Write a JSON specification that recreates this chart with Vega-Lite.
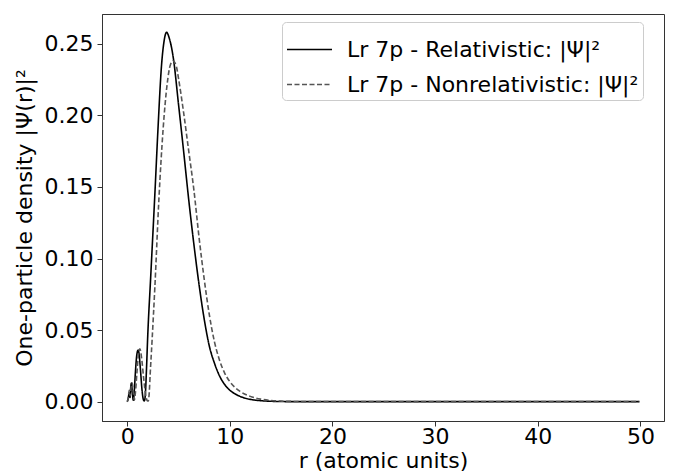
{
  "$schema": "https://vega.github.io/schema/vega-lite/v6.json",
  "width": 562,
  "height": 407,
  "autosize": {"type": "none"},
  "padding": {"left": 102, "top": 14, "right": 9, "bottom": 51},
  "background": "white",
  "config": {
    "font": "DejaVu Sans",
    "view": {"stroke": "#333333", "strokeWidth": 1},
    "axis": {
      "grid": false,
      "domainColor": "#333333",
      "tickColor": "#333333",
      "tickSize": 5,
      "labelFont": "DejaVu Sans",
      "labelFontSize": 22,
      "labelColor": "#000000",
      "titleFont": "DejaVu Sans",
      "titleFontSize": 22,
      "titleFontWeight": "normal",
      "titleColor": "#000000"
    },
    "legend": {
      "labelFont": "DejaVu Sans",
      "labelFontSize": 22,
      "labelColor": "#000000",
      "labelLimit": 0
    }
  },
  "data": {
    "values": [
      {"r": 0, "d": 0, "s": "Lr 7p - Relativistic: |Ψ|²"},
      {"r": 0.1, "d": 0.002, "s": "Lr 7p - Relativistic: |Ψ|²"},
      {"r": 0.2, "d": 0.006, "s": "Lr 7p - Relativistic: |Ψ|²"},
      {"r": 0.28, "d": 0.003, "s": "Lr 7p - Relativistic: |Ψ|²"},
      {"r": 0.35, "d": 0.01, "s": "Lr 7p - Relativistic: |Ψ|²"},
      {"r": 0.42, "d": 0.013, "s": "Lr 7p - Relativistic: |Ψ|²"},
      {"r": 0.5, "d": 0.007, "s": "Lr 7p - Relativistic: |Ψ|²"},
      {"r": 0.6, "d": 0.001, "s": "Lr 7p - Relativistic: |Ψ|²"},
      {"r": 0.7, "d": 0.008, "s": "Lr 7p - Relativistic: |Ψ|²"},
      {"r": 0.8, "d": 0.02, "s": "Lr 7p - Relativistic: |Ψ|²"},
      {"r": 0.9, "d": 0.03, "s": "Lr 7p - Relativistic: |Ψ|²"},
      {"r": 1.0, "d": 0.035, "s": "Lr 7p - Relativistic: |Ψ|²"},
      {"r": 1.07, "d": 0.036, "s": "Lr 7p - Relativistic: |Ψ|²"},
      {"r": 1.15, "d": 0.034, "s": "Lr 7p - Relativistic: |Ψ|²"},
      {"r": 1.3, "d": 0.022, "s": "Lr 7p - Relativistic: |Ψ|²"},
      {"r": 1.45, "d": 0.008, "s": "Lr 7p - Relativistic: |Ψ|²"},
      {"r": 1.6, "d": 0.001, "s": "Lr 7p - Relativistic: |Ψ|²"},
      {"r": 1.68, "d": 0.0005, "s": "Lr 7p - Relativistic: |Ψ|²"},
      {"r": 1.78, "d": 0.006, "s": "Lr 7p - Relativistic: |Ψ|²"},
      {"r": 1.88, "d": 0.022, "s": "Lr 7p - Relativistic: |Ψ|²"},
      {"r": 2.0, "d": 0.045, "s": "Lr 7p - Relativistic: |Ψ|²"},
      {"r": 2.3, "d": 0.088, "s": "Lr 7p - Relativistic: |Ψ|²"},
      {"r": 2.7, "d": 0.145, "s": "Lr 7p - Relativistic: |Ψ|²"},
      {"r": 3.0, "d": 0.19, "s": "Lr 7p - Relativistic: |Ψ|²"},
      {"r": 3.35, "d": 0.235, "s": "Lr 7p - Relativistic: |Ψ|²"},
      {"r": 3.6, "d": 0.252, "s": "Lr 7p - Relativistic: |Ψ|²"},
      {"r": 3.84, "d": 0.258, "s": "Lr 7p - Relativistic: |Ψ|²"},
      {"r": 4.1, "d": 0.254, "s": "Lr 7p - Relativistic: |Ψ|²"},
      {"r": 4.5, "d": 0.24, "s": "Lr 7p - Relativistic: |Ψ|²"},
      {"r": 5.0, "d": 0.208, "s": "Lr 7p - Relativistic: |Ψ|²"},
      {"r": 5.5, "d": 0.175, "s": "Lr 7p - Relativistic: |Ψ|²"},
      {"r": 6.0, "d": 0.141, "s": "Lr 7p - Relativistic: |Ψ|²"},
      {"r": 6.5, "d": 0.11, "s": "Lr 7p - Relativistic: |Ψ|²"},
      {"r": 7.0, "d": 0.082, "s": "Lr 7p - Relativistic: |Ψ|²"},
      {"r": 7.5, "d": 0.058, "s": "Lr 7p - Relativistic: |Ψ|²"},
      {"r": 8.0, "d": 0.039, "s": "Lr 7p - Relativistic: |Ψ|²"},
      {"r": 8.5, "d": 0.027, "s": "Lr 7p - Relativistic: |Ψ|²"},
      {"r": 9.0, "d": 0.018, "s": "Lr 7p - Relativistic: |Ψ|²"},
      {"r": 9.5, "d": 0.012, "s": "Lr 7p - Relativistic: |Ψ|²"},
      {"r": 10, "d": 0.008, "s": "Lr 7p - Relativistic: |Ψ|²"},
      {"r": 10.5, "d": 0.0055, "s": "Lr 7p - Relativistic: |Ψ|²"},
      {"r": 11, "d": 0.0037, "s": "Lr 7p - Relativistic: |Ψ|²"},
      {"r": 12, "d": 0.0016, "s": "Lr 7p - Relativistic: |Ψ|²"},
      {"r": 13, "d": 0.0007, "s": "Lr 7p - Relativistic: |Ψ|²"},
      {"r": 14, "d": 0.0003, "s": "Lr 7p - Relativistic: |Ψ|²"},
      {"r": 15, "d": 0.0001, "s": "Lr 7p - Relativistic: |Ψ|²"},
      {"r": 17, "d": 0, "s": "Lr 7p - Relativistic: |Ψ|²"},
      {"r": 20, "d": 0, "s": "Lr 7p - Relativistic: |Ψ|²"},
      {"r": 30, "d": 0, "s": "Lr 7p - Relativistic: |Ψ|²"},
      {"r": 40, "d": 0, "s": "Lr 7p - Relativistic: |Ψ|²"},
      {"r": 49.9, "d": 0, "s": "Lr 7p - Relativistic: |Ψ|²"},
      {"r": 0, "d": 0, "s": "Lr 7p - Nonrelativistic: |Ψ|²"},
      {"r": 0.1, "d": 0.002, "s": "Lr 7p - Nonrelativistic: |Ψ|²"},
      {"r": 0.2, "d": 0.008, "s": "Lr 7p - Nonrelativistic: |Ψ|²"},
      {"r": 0.3, "d": 0.004, "s": "Lr 7p - Nonrelativistic: |Ψ|²"},
      {"r": 0.4, "d": 0.011, "s": "Lr 7p - Nonrelativistic: |Ψ|²"},
      {"r": 0.5, "d": 0.013, "s": "Lr 7p - Nonrelativistic: |Ψ|²"},
      {"r": 0.6, "d": 0.006, "s": "Lr 7p - Nonrelativistic: |Ψ|²"},
      {"r": 0.7, "d": 0.001, "s": "Lr 7p - Nonrelativistic: |Ψ|²"},
      {"r": 0.8, "d": 0.006, "s": "Lr 7p - Nonrelativistic: |Ψ|²"},
      {"r": 0.95, "d": 0.02, "s": "Lr 7p - Nonrelativistic: |Ψ|²"},
      {"r": 1.1, "d": 0.033, "s": "Lr 7p - Nonrelativistic: |Ψ|²"},
      {"r": 1.24, "d": 0.037, "s": "Lr 7p - Nonrelativistic: |Ψ|²"},
      {"r": 1.4, "d": 0.031, "s": "Lr 7p - Nonrelativistic: |Ψ|²"},
      {"r": 1.6, "d": 0.017, "s": "Lr 7p - Nonrelativistic: |Ψ|²"},
      {"r": 1.8, "d": 0.005, "s": "Lr 7p - Nonrelativistic: |Ψ|²"},
      {"r": 1.95, "d": 0.0008, "s": "Lr 7p - Nonrelativistic: |Ψ|²"},
      {"r": 2.05, "d": 0.0005, "s": "Lr 7p - Nonrelativistic: |Ψ|²"},
      {"r": 2.15, "d": 0.006, "s": "Lr 7p - Nonrelativistic: |Ψ|²"},
      {"r": 2.25, "d": 0.02, "s": "Lr 7p - Nonrelativistic: |Ψ|²"},
      {"r": 2.43, "d": 0.043, "s": "Lr 7p - Nonrelativistic: |Ψ|²"},
      {"r": 2.7, "d": 0.08, "s": "Lr 7p - Nonrelativistic: |Ψ|²"},
      {"r": 3.09, "d": 0.141, "s": "Lr 7p - Nonrelativistic: |Ψ|²"},
      {"r": 3.5, "d": 0.19, "s": "Lr 7p - Nonrelativistic: |Ψ|²"},
      {"r": 3.9, "d": 0.222, "s": "Lr 7p - Nonrelativistic: |Ψ|²"},
      {"r": 4.2, "d": 0.235, "s": "Lr 7p - Nonrelativistic: |Ψ|²"},
      {"r": 4.48, "d": 0.238, "s": "Lr 7p - Nonrelativistic: |Ψ|²"},
      {"r": 4.8, "d": 0.234, "s": "Lr 7p - Nonrelativistic: |Ψ|²"},
      {"r": 5.0, "d": 0.226, "s": "Lr 7p - Nonrelativistic: |Ψ|²"},
      {"r": 5.5, "d": 0.202, "s": "Lr 7p - Nonrelativistic: |Ψ|²"},
      {"r": 6.0, "d": 0.175, "s": "Lr 7p - Nonrelativistic: |Ψ|²"},
      {"r": 6.5, "d": 0.148, "s": "Lr 7p - Nonrelativistic: |Ψ|²"},
      {"r": 7.0, "d": 0.115, "s": "Lr 7p - Nonrelativistic: |Ψ|²"},
      {"r": 7.5, "d": 0.086, "s": "Lr 7p - Nonrelativistic: |Ψ|²"},
      {"r": 8.0, "d": 0.061, "s": "Lr 7p - Nonrelativistic: |Ψ|²"},
      {"r": 8.5, "d": 0.042, "s": "Lr 7p - Nonrelativistic: |Ψ|²"},
      {"r": 9.0, "d": 0.029, "s": "Lr 7p - Nonrelativistic: |Ψ|²"},
      {"r": 9.5, "d": 0.02, "s": "Lr 7p - Nonrelativistic: |Ψ|²"},
      {"r": 10, "d": 0.014, "s": "Lr 7p - Nonrelativistic: |Ψ|²"},
      {"r": 10.5, "d": 0.01, "s": "Lr 7p - Nonrelativistic: |Ψ|²"},
      {"r": 11, "d": 0.0072, "s": "Lr 7p - Nonrelativistic: |Ψ|²"},
      {"r": 12, "d": 0.0037, "s": "Lr 7p - Nonrelativistic: |Ψ|²"},
      {"r": 13, "d": 0.0018, "s": "Lr 7p - Nonrelativistic: |Ψ|²"},
      {"r": 14, "d": 0.0008, "s": "Lr 7p - Nonrelativistic: |Ψ|²"},
      {"r": 15, "d": 0.0004, "s": "Lr 7p - Nonrelativistic: |Ψ|²"},
      {"r": 16, "d": 0.0002, "s": "Lr 7p - Nonrelativistic: |Ψ|²"},
      {"r": 18, "d": 0, "s": "Lr 7p - Nonrelativistic: |Ψ|²"},
      {"r": 20, "d": 0, "s": "Lr 7p - Nonrelativistic: |Ψ|²"},
      {"r": 30, "d": 0, "s": "Lr 7p - Nonrelativistic: |Ψ|²"},
      {"r": 40, "d": 0, "s": "Lr 7p - Nonrelativistic: |Ψ|²"},
      {"r": 49.9, "d": 0, "s": "Lr 7p - Nonrelativistic: |Ψ|²"}
    ]
  },
  "mark": {"type": "line", "strokeWidth": 1.6, "interpolate": "monotone"},
  "encoding": {
    "x": {
      "field": "r",
      "type": "quantitative",
      "scale": {"domain": [-2.45, 52.3], "nice": false, "zero": false},
      "axis": {"values": [0, 10, 20, 30, 40, 50], "title": "r (atomic units)", "labelPadding": 0, "titlePadding": 3}
    },
    "y": {
      "field": "d",
      "type": "quantitative",
      "scale": {"domain": [-0.0135, 0.2708], "nice": false, "zero": false},
      "axis": {"values": [0, 0.05, 0.1, 0.15, 0.2, 0.25], "format": ".2f", "title": "One-particle density |Ψ(r)|²", "labelPadding": 4, "titlePadding": 8}
    },
    "color": {
      "field": "s",
      "type": "nominal",
      "scale": {"domain": ["Lr 7p - Relativistic: |Ψ|²", "Lr 7p - Nonrelativistic: |Ψ|²"], "range": ["#000000", "#555555"]},
      "legend": {
        "title": null,
        "orient": "none",
        "legendX": 180,
        "legendY": 8,
        "symbolType": "stroke",
        "symbolSize": 2025,
        "symbolStrokeWidth": 1.5,
        "labelOffset": 14,
        "rowPadding": -8,
        "padding": 4,
        "strokeColor": "#cccccc",
        "fillColor": "#ffffff",
        "cornerRadius": 4
      }
    },
    "strokeDash": {
      "field": "s",
      "type": "nominal",
      "scale": {"domain": ["Lr 7p - Relativistic: |Ψ|²", "Lr 7p - Nonrelativistic: |Ψ|²"], "range": [[1, 0], [5, 2.5]]},
      "legend": null
    }
  }
}
